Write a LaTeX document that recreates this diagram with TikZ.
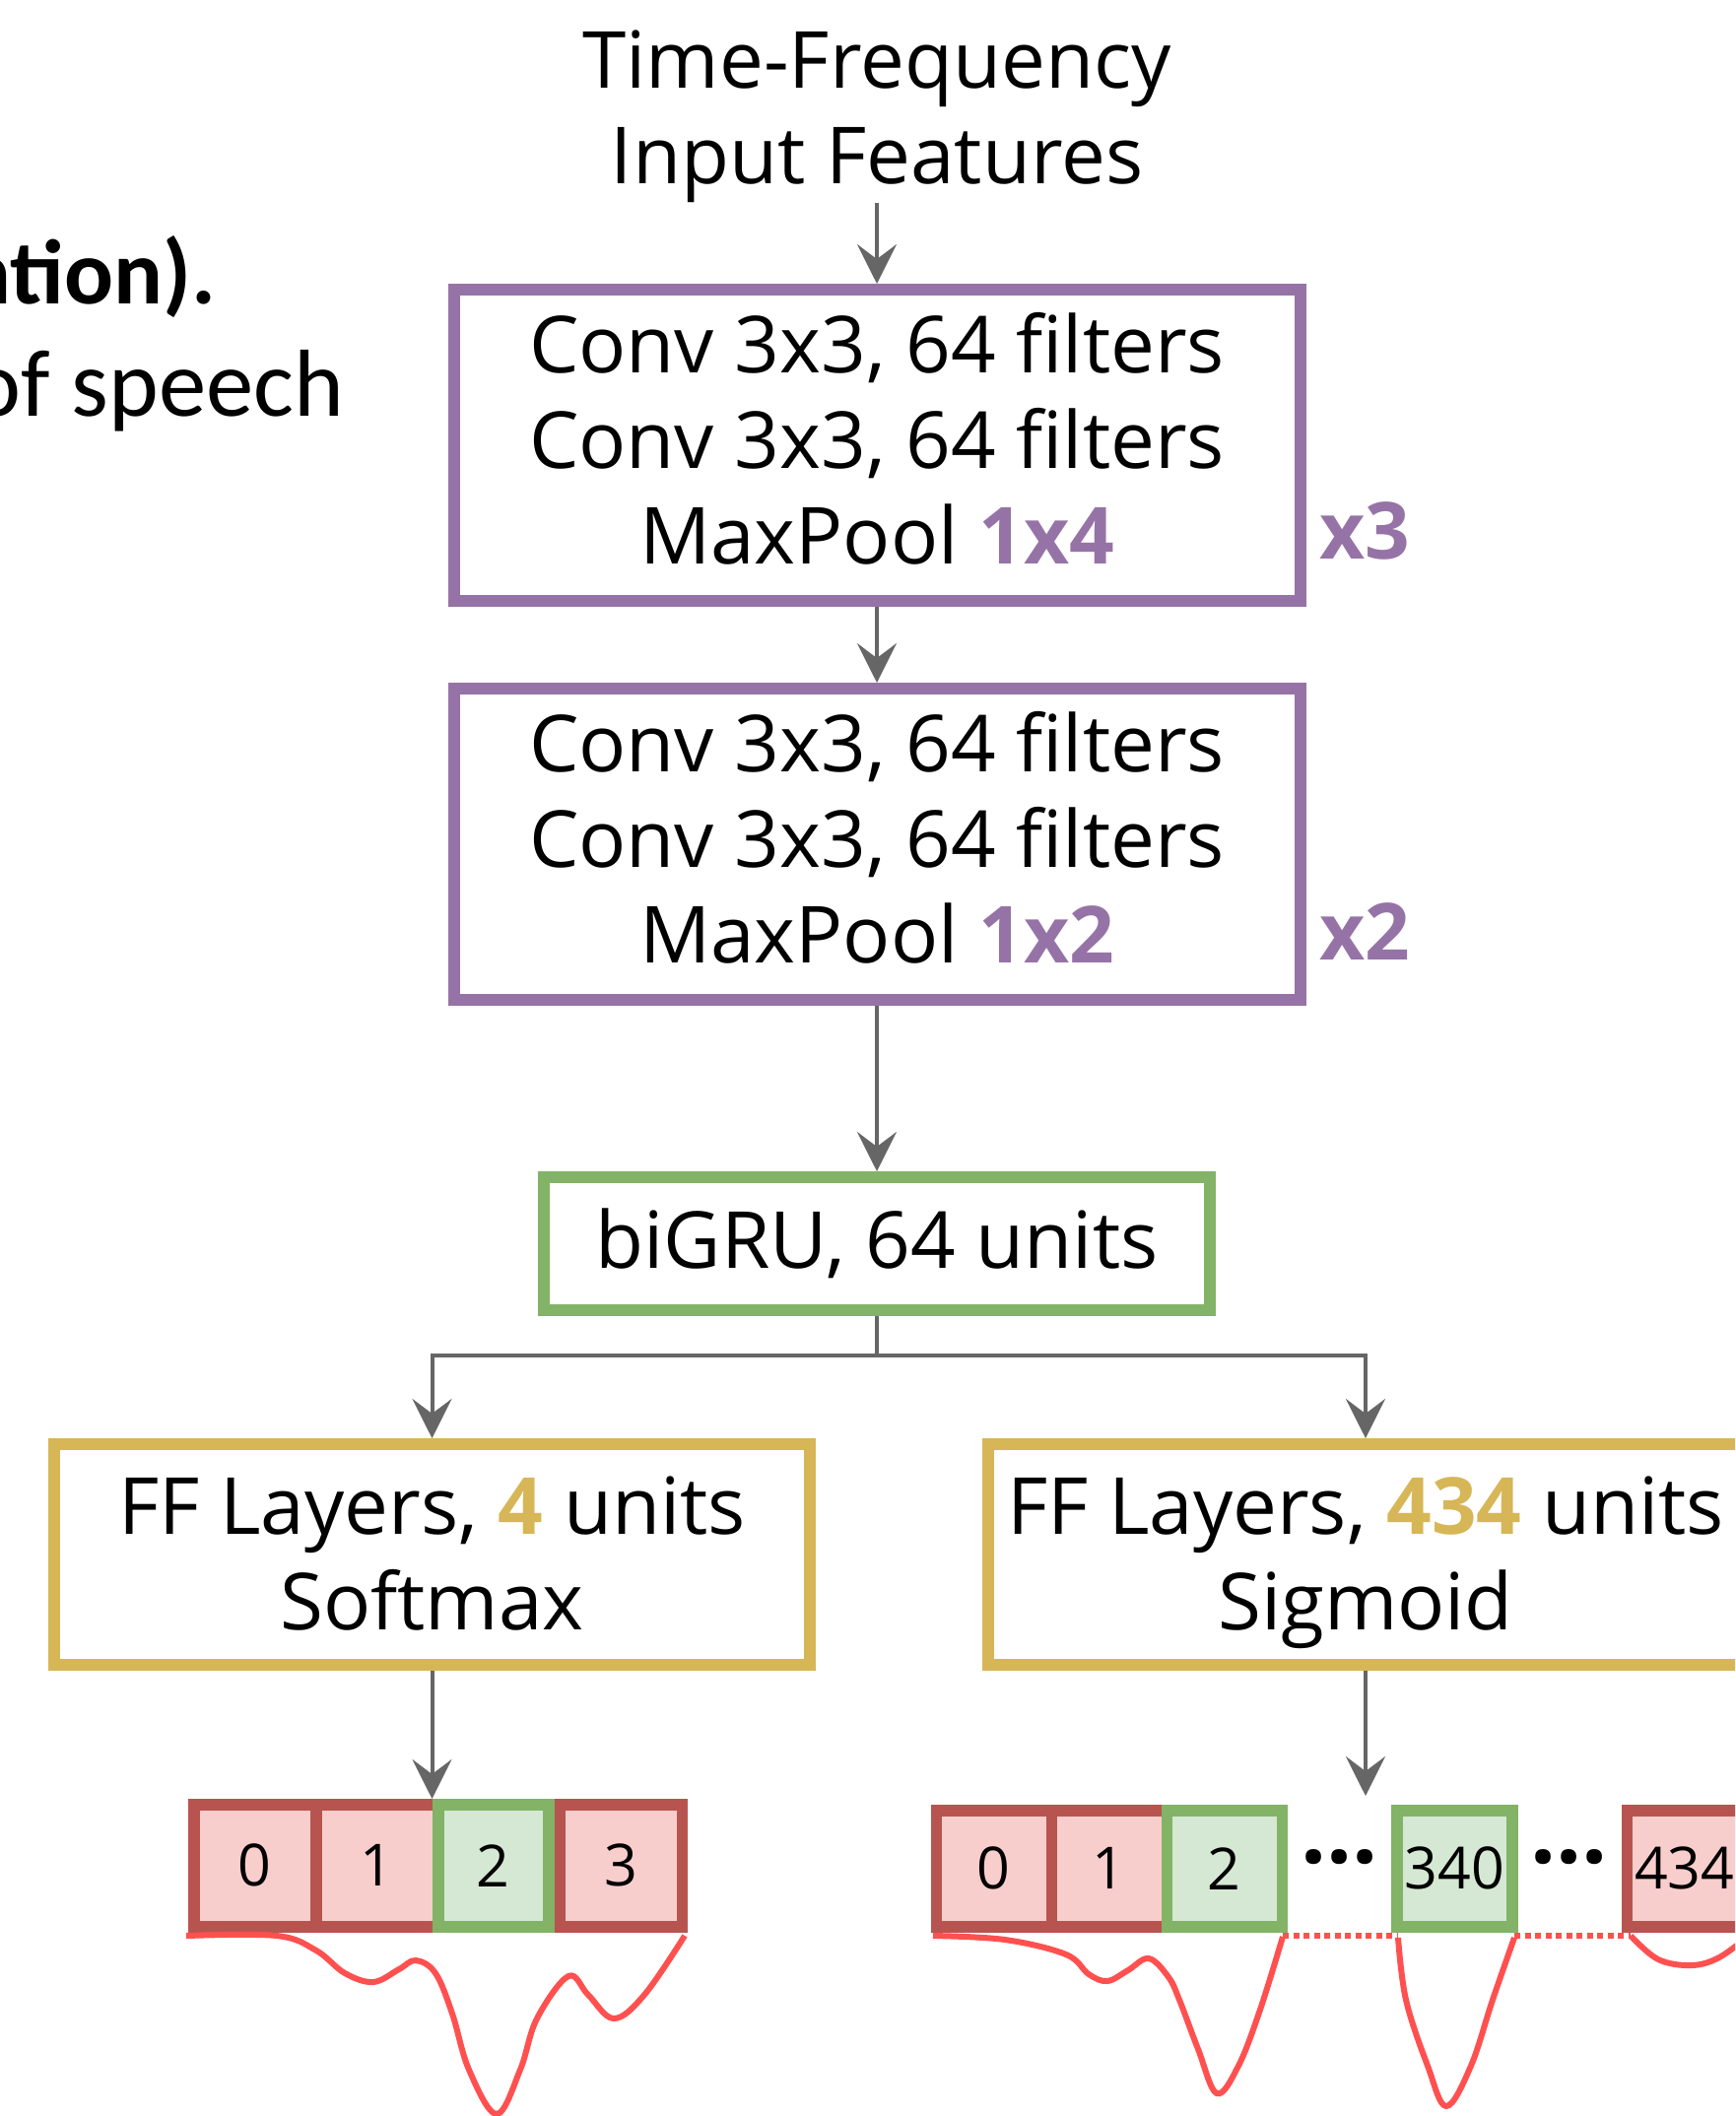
\documentclass[tikz,border=0pt]{standalone}
\usepackage{fontspec}
\setmainfont{Open Sans}
\newfontfamily\slidefont{Carlito}
\usetikzlibrary{arrows.meta, positioning}
\definecolor{boxpurple}{HTML}{9673A6}
\definecolor{boxgreen}{HTML}{82B366}
\definecolor{boxyellow}{HTML}{D6B656}
\definecolor{cellred}{HTML}{B85450}
\definecolor{cellredfill}{HTML}{F8CECC}
\definecolor{cellgreenfill}{HTML}{D5E8D4}
\definecolor{arrowgray}{HTML}{666666}
\definecolor{curvered}{HTML}{FF5050}

\begin{document}
\begin{tikzpicture}[
    x=0.1mm, y=-0.1mm,
    every node/.style={font=\fontsize{22.75}{27.6}\selectfont},
    layer/.style={draw, line width=1.2mm, align=center, inner sep=0pt},
    convbox/.style={layer, draw=boxpurple, minimum width=85.9mm, minimum height=31.6mm, text depth=1.4mm},
    grubox/.style={layer, draw=boxgreen, minimum width=67.6mm, minimum height=13.5mm},
    ffbox/.style={layer, draw=boxyellow, minimum width=76.7mm, minimum height=22.4mm, text depth=0.3mm},
    cell/.style={draw, line width=1.15mm, inner sep=0pt, font=\fontsize{16.8}{20}\selectfont},
    redcell/.style={cell, draw=cellred, fill=cellredfill},
    greencell/.style={cell, draw=boxgreen, fill=cellgreenfill},
    softsize/.style={minimum width=12.4mm, minimum height=12.4mm},
    sigsize/.style={minimum width=11.7mm, minimum height=11.8mm},
    repeatmark/.style={inner sep=0pt, text=boxpurple, font=\bfseries\fontsize{22.75}{27.6}\selectfont},
    gapdots/.style={inner sep=0pt, font=\bfseries\fontsize{26}{30}\selectfont},
    flow/.style={draw=arrowgray, line width=0.4mm, -{Stealth[length=4mm, width=4mm, inset=1.5mm]}},
    link/.style={draw=arrowgray, line width=0.4mm},
    score/.style={draw=curvered, line width=0.6mm},
    gap/.style={score, dash pattern=on 0.6mm off 0.45mm}
  ]

  \useasboundingbox (0,0) rectangle (1761,2148);
  \clip (0,0) rectangle (1761,2148);

  % Slide text cut off at the left
  \node[anchor=base east, inner sep=0pt, font=\slidefont\bfseries\fontsize{26.5}{32}\selectfont] (slideLineA) at (220,308) {ntion).};
  \node[anchor=base east, inner sep=0pt, font=\slidefont\fontsize{27.5}{33}\selectfont] (slideLineB) at (350,422) {of speech};

  % Conv stack
  \node[convbox] (convA) at (890,452) {Conv 3x3, 64 filters\\Conv 3x3, 64 filters\\MaxPool \textcolor{boxpurple}{\textbf{1x4}}};
  \node[align=center, inner sep=0pt, above=8.2mm of convA] (inputFeat) {Time-Frequency\\Input Features};
  \node[convbox, below=7.7mm of convA] (convB) {Conv 3x3, 64 filters\\Conv 3x3, 64 filters\\MaxPool \textcolor{boxpurple}{\textbf{1x2}}};
  \node[repeatmark, anchor=base west, xshift=1.3mm, yshift=4.9mm] (convARep) at (convA.south east) {x3};
  \node[repeatmark, anchor=base west, xshift=1.3mm, yshift=4.7mm] (convBRep) at (convB.south east) {x2};

  \draw[flow] (inputFeat) -- (convA);
  \draw[flow] (convA) -- (convB);

  % Recurrent layer and heads
  \node[grubox, below=16.8mm of convB] (gruBox) {biGRU, 64 units};
  \draw[flow] (convB) -- (gruBox);

  \node[ffbox, below=12.4mm of gruBox, xshift=-45.15mm] (ffSoft) {FF Layers, \textcolor{boxyellow}{\textbf{4}} units\\Softmax};
  \node[ffbox, below=12.4mm of gruBox, xshift=49.6mm] (ffSig) {FF Layers, \textcolor{boxyellow}{\textbf{434}} units\\Sigmoid};

  \coordinate[below=4mm of gruBox.south] (split);
  \draw[link] (gruBox.south) -- (split);
  \draw[flow] (split) -| (ffSoft.north);
  \draw[flow] (split) -| (ffSig.north);

  % Softmax outputs
  \node[redcell, softsize, below left=13mm and -1.2mm of ffSoft.south] (softCell1) {1};
  \node[redcell, softsize, left=-1.15mm of softCell1] (softCell0) {0};
  \node[greencell, softsize, minimum width=11.2mm, right=-1.15mm of softCell1] (softCell2) {2};
  \node[redcell, softsize, right=0mm of softCell2] (softCell3) {3};
  \draw[flow] (ffSoft.south) -- (ffSoft.south |- softCell1.north);

  % Sigmoid outputs
  \node[redcell, sigsize, below left=13.6mm and 31.3mm of ffSig.south] (sigCell0) {0};
  \node[redcell, sigsize, right=-1.15mm of sigCell0] (sigCell1) {1};
  \node[greencell, sigsize, right=-1.15mm of sigCell1] (sigCell2) {2};
  \node[greencell, sigsize, right=10.5mm of sigCell2] (sigCell340) {340};
  \node[redcell, sigsize, right=10.5mm of sigCell340] (sigCell434) {434};
  \path (sigCell2.east) -- node[gapdots, yshift=1.2mm] (sigGapA) {…} (sigCell340.west);
  \path (sigCell340.east) -- node[gapdots, yshift=1.2mm] (sigGapB) {…} (sigCell434.west);
  \draw[flow] (ffSig.south) -- ([yshift=0.9mm]ffSig.south |- sigCell2.north);

  % Score curves
  \draw[score] plot[smooth, tension=0.6] coordinates {(189,1965) (281,1965) (321,1980) (350,2003) (379,2012) (405,1999) (422,1990) (442,2003) (459,2044) (476,2101) (504,2146) (528,2101) (545,2049) (577,2006) (597,2025) (623,2049) (654,2025) (695,1965)};
  \draw[score] plot[smooth, tension=0.6] coordinates {(947,1965) (1020,1969) (1082,1984) (1105,2004) (1124,2011) (1145,2000) (1166,1988) (1186,2007) (1197,2030) (1216,2080) (1235,2125) (1257,2097) (1279,2040) (1302,1966)};
  \draw[gap] (1302,1965) -- (1419,1965);
  \draw[score] plot[smooth, tension=0.6] coordinates {(1419,1967) (1427,2030) (1449,2097) (1468,2138) (1493,2097) (1515,2030) (1537,1967)};
  \draw[gap] (1537,1965) -- (1655,1965);
  \draw[score] plot[smooth, tension=0.6] coordinates {(1655,1965) (1683,1989) (1717,1995) (1745,1987) (1775,1965)};

\end{tikzpicture}
\end{document}
